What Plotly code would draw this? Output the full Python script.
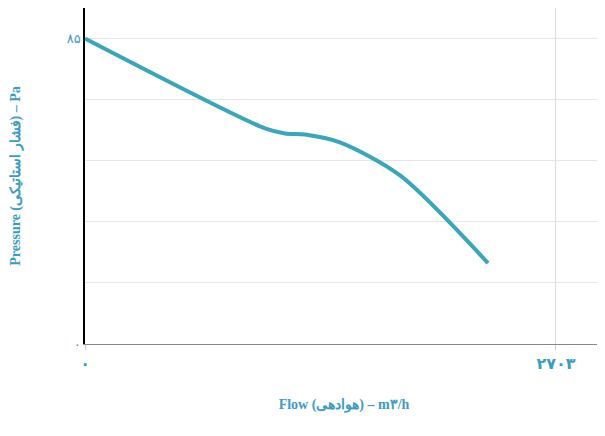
import plotly.graph_objects as go

flow = [0, 1033, 1148, 1263, 1463, 1808, 2313]
pressure = [85, 60, 58.6, 58.3, 56.1, 46.9, 22.5]

x_ticks = [0, 2703]
x_tick_text = ["۰", "۲۷۰۳"]
y_ticks = [0, 17, 34, 51, 68, 85]
y_tick_text = ["۰", "", "", "", "", "۸۵"]

teal = "#3aa6b9"
label_col = "#3a9cc4"

fig = go.Figure(go.Scatter(
    x=flow, y=pressure, mode="lines",
    line=dict(color=teal, width=4, shape="spline", smoothing=0.8),
    hoverinfo="x+y",
))

fig.update_layout(
    width=605, height=436,
    margin=dict(l=77, r=10, t=0, b=100),
    paper_bgcolor="white", plot_bgcolor="white",
    showlegend=False,
    font=dict(family="Liberation Serif", color=label_col),
    xaxis=dict(
        range=[0, 2973], tickvals=x_ticks, ticktext=x_tick_text,
        showgrid=True, gridcolor="#dddddd", gridwidth=1,
        showline=True, linecolor="#888888", linewidth=1,
        ticks="outside", ticklen=5, tickcolor="#cccccc",
        tickfont=dict(size=16, family="DejaVu Sans", color=label_col, weight="bold"),
        zeroline=False,
        title=dict(text="<b>Flow (هوادهی) – m۳/h</b>", standoff=26,
                   font=dict(size=14, family="Liberation Serif", color=label_col)),
    ),
    yaxis=dict(
        range=[0, 93.5], tickvals=y_ticks, ticktext=y_tick_text,
        showgrid=True, gridcolor="#e6e6e6", gridwidth=1,
        showline=True, linecolor="#000000", linewidth=1.5,
        ticks="", zeroline=False,
        tickfont=dict(size=13, family="DejaVu Sans", color=label_col),
        title=dict(text="<b>Pressure (فشار استاتیکی) – Pa</b>", standoff=44,
                   font=dict(size=14, family="Liberation Serif", color=label_col)),
    ),
)

fig.write_html("out.html")
